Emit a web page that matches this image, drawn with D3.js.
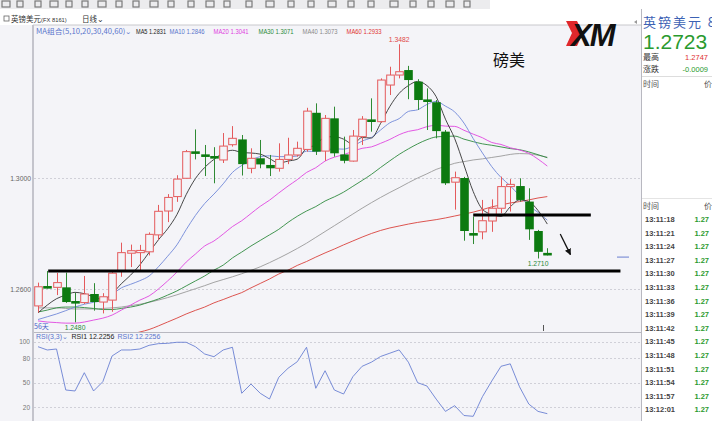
<!DOCTYPE html>
<html><head><meta charset="utf-8">
<script src="https://cdn.jsdelivr.net/npm/d3@7"></script>
<style>
body{margin:0;background:#fff;overflow:hidden;}
svg{display:block;font-family:"Noto Sans CJK SC","Noto Sans",sans-serif;}
</style></head><body>
<svg id="c" width="718" height="433"></svg>
<script>
// ---------- data ----------
const opens = [1.2539,1.2607,1.2606,1.2606,1.2553,1.2551,1.2582,1.2553,1.2560,1.2666,
1.2729,1.2731,1.2734,1.2795,1.2881,1.2933,1.2999,1.3093,1.3082,1.3076,
1.3065,1.3120,1.3139,1.3035,1.3071,1.3047,1.3035,1.3067,1.3083,1.3103,
1.3235,1.3097,1.3215,1.3085,1.3061,1.3149,1.3208,1.3203,1.3335,1.3371,
1.3389,1.3347,1.3280,1.3273,1.3167,1.2985,1.3000,1.2798,1.2806,1.2845,
1.2891,1.2969,1.2971,1.2915,1.2809,1.2728];
const highs = [1.2623,1.2665,1.2658,1.2659,1.2586,1.2647,1.2621,1.2585,1.2661,1.2767,
1.2760,1.2759,1.2804,1.2903,1.2942,1.3010,1.3101,1.3175,1.3119,1.3111,
1.3162,1.3187,1.3155,1.3107,1.3137,1.3083,1.3125,1.3145,1.3131,1.3253,
1.3269,1.3227,1.3257,1.3149,1.3173,1.3223,1.3287,1.3359,1.3401,1.3482,
1.3404,1.3356,1.3323,1.3281,1.3173,1.3023,1.3004,1.2861,1.2921,1.2923,
1.3005,1.2996,1.2999,1.2963,1.2813,1.2747];
const lows = [1.2515,1.2602,1.2578,1.2550,1.2480,1.2546,1.2522,1.2512,1.2518,1.2644,
1.2679,1.2668,1.2721,1.2777,1.2841,1.2914,1.2998,1.3067,1.3007,1.2981,
1.3054,1.3113,1.3009,1.3017,1.3035,1.3007,1.3023,1.3050,1.3077,1.3095,
1.3083,1.3062,1.3077,1.3053,1.3059,1.3119,1.3167,1.3199,1.3299,1.3359,
1.3284,1.3245,1.3173,1.3143,1.2975,1.2886,1.2774,1.2762,1.2779,1.2806,
1.2873,1.2879,1.2915,1.2777,1.2710,1.2721];
const closes = [1.2608,1.2605,1.2623,1.2553,1.2551,1.2582,1.2553,1.2572,1.2657,1.2731,
1.2738,1.2739,1.2797,1.2880,1.2930,1.2996,1.3095,1.3090,1.3079,1.3073,
1.3115,1.3143,1.3050,1.3071,1.3049,1.3035,1.3067,1.3083,1.3107,1.3241,
1.3095,1.3215,1.3089,1.3062,1.3151,1.3212,1.3205,1.3353,1.3371,1.3383,
1.3353,1.3281,1.3277,1.3169,1.2981,1.3001,1.2809,1.2796,1.2846,1.2891,
1.2969,1.2977,1.2921,1.2815,1.2734,1.2723];

const ma5 = [1.2514,1.2542,1.2565,1.2578,1.2588,1.2583,1.2572,1.2562,1.2583,1.2619,
1.2650,1.2687,1.2732,1.2777,1.2817,1.2868,1.2940,1.2998,1.3038,1.3067,
1.3090,1.3100,1.3092,1.3090,1.3086,1.3070,1.3054,1.3061,1.3068,1.3107,
1.3119,1.3148,1.3149,1.3140,1.3122,1.3146,1.3144,1.3197,1.3258,1.3305,
1.3333,1.3348,1.3333,1.3293,1.3212,1.3142,1.3047,1.2951,1.2887,1.2869,
1.2862,1.2896,1.2921,1.2915,1.2883,1.2834];
const ma10 = [1.2490,1.2500,1.2510,1.2522,1.2535,1.2545,1.2552,1.2560,1.2580,1.2604,
1.2617,1.2630,1.2647,1.2680,1.2718,1.2759,1.2814,1.2865,1.2908,1.2942,
1.2979,1.3020,1.3045,1.3064,1.3077,1.3080,1.3077,1.3077,1.3079,1.3097,
1.3095,1.3101,1.3105,1.3104,1.3115,1.3133,1.3146,1.3173,1.3199,1.3214,
1.3240,1.3246,1.3265,1.3276,1.3259,1.3238,1.3198,1.3142,1.3090,1.3041,
1.3002,1.2972,1.2936,1.2901,1.2876,1.2848];
const ma20 = [1.2485,1.2481,1.2479,1.2477,1.2477,1.2481,1.2488,1.2495,1.2506,1.2524,
1.2542,1.2560,1.2575,1.2600,1.2629,1.2661,1.2697,1.2726,1.2755,1.2773,
1.2798,1.2825,1.2846,1.2872,1.2898,1.2920,1.2946,1.2971,1.2994,1.3020,
1.3037,1.3061,1.3075,1.3084,1.3096,1.3107,1.3112,1.3125,1.3139,1.3156,
1.3168,1.3174,1.3185,1.3190,1.3187,1.3186,1.3172,1.3158,1.3145,1.3128,
1.3121,1.3109,1.3101,1.3089,1.3068,1.3043];
const ma30 = [1.2517,1.2524,1.2532,1.2535,1.2535,1.2533,1.2530,1.2526,1.2526,1.2530,
1.2535,1.2542,1.2553,1.2564,1.2578,1.2593,1.2611,1.2629,1.2647,1.2668,
1.2686,1.2712,1.2733,1.2755,1.2775,1.2795,1.2815,1.2840,1.2862,1.2881,
1.2897,1.2917,1.2932,1.2949,1.2970,1.2991,1.3013,1.3038,1.3062,1.3085,
1.3105,1.3123,1.3138,1.3148,1.3150,1.3151,1.3140,1.3131,1.3123,1.3118,
1.3112,1.3106,1.3102,1.3094,1.3084,1.3073];
const ma40 = [1.2532,1.2532,1.2532,1.2530,1.2528,1.2528,1.2528,1.2530,1.2532,1.2535,
1.2540,1.2545,1.2552,1.2560,1.2569,1.2579,1.2590,1.2601,1.2612,1.2624,
1.2634,1.2644,1.2655,1.2667,1.2680,1.2695,1.2711,1.2728,1.2746,1.2765,
1.2786,1.2807,1.2828,1.2849,1.2870,1.2891,1.2911,1.2930,1.2948,1.2965,
1.2983,1.3000,1.3015,1.3031,1.3042,1.3053,1.3059,1.3065,1.3069,1.3074,
1.3079,1.3085,1.3088,1.3087,1.3082,1.3075];
const ma60 = [1.2373,1.2380,1.2387,1.2395,1.2400,1.2405,1.2411,1.2416,1.2420,1.2427,
1.2436,1.2445,1.2454,1.2467,1.2481,1.2495,1.2510,1.2523,1.2535,1.2550,
1.2562,1.2575,1.2587,1.2604,1.2620,1.2636,1.2654,1.2668,1.2685,1.2699,
1.2715,1.2730,1.2744,1.2759,1.2773,1.2787,1.2800,1.2811,1.2820,1.2827,
1.2834,1.2840,1.2845,1.2850,1.2856,1.2863,1.2870,1.2877,1.2886,1.2896,
1.2903,1.2910,1.2915,1.2921,1.2928,1.2933];
const rsi = [93.9,89.9,91.1,41.1,39.9,62.2,39.9,51.2,82.6,89.9,
89.9,91.1,95.6,97.6,98.0,99.3,99.3,93.9,85.0,81.7,
89.9,93.2,37.1,48.4,37.1,30.1,56.6,67.6,75.6,93.2,
43.2,64.6,41.1,36.2,57.3,70,75,82,86,90,
75,50,46,30,15,22,10,9,33,52,
70,73,45,24,15,12.2256];

const maNames = ["MA5","MA10","MA20","MA30","MA40","MA60"];
const maLast = ["1.2831","1.2846","1.3041","1.3071","1.3073","1.2933"];
const priceTicks = [1.30, 1.26];
const priceTickLabels = ["1.3000","1.2600"];
const rsiTicks = [100, 80, 50, 20];
const times = ["13:11:18","13:11:21","13:11:24","13:11:27","13:11:30","13:11:33","13:11:36",
"13:11:39","13:11:42","13:11:45","13:11:48","13:11:51","13:11:54","13:11:57","13:12:01"];
const tickPrice = "1.27";
// annotation lines [startIndex, endIndex, price]
const supportLines = [[2.1, 63.9, 1.2665], [48.0, 60.7, 1.2867]];
const arrowPts = [[57.4, 1.2798], [58.5, 1.2724]];

// ---------- layout ----------
const svg = d3.select("#c");
const W = 718, H = 433;
const PL = 34, PR = 641, PT = 25, PB = 332, RB = 421;
const x = d3.scaleLinear().domain([1, 56]).range([38, 547.3]);
const y = d3.scaleLinear().domain([1.26, 1.30]).range([289, 178]);
const yr = d3.scaleLinear().domain([20, 100]).range([407.3, 341.7]);
const idx = d3.range(1, 57);

const BG = "#f4f4f8", RED = "#e45a5c", GREEN = "#0c7a10", GWICK = "#2f8a34";
const maColors = ["#333333", "#7088d8", "#e046e0", "#2f8a3e", "#9a9a9a", "#d9423c"];
const legColors = ["#222222", "#5a74cc", "#e040e0", "#2a8a3a", "#8a8a8a", "#e03434"];

svg.append("rect").attr("width", W).attr("height", H).attr("fill", "#fff");
// toolbar strip
svg.append("rect").attr("x", 0).attr("y", 0).attr("width", 490).attr("height", 9).attr("fill", "#ececee");
const iconX = [2,17,35,50,66,82,98,116,133,150,168,188,206,224,246,266,288,308,328,348,368,390,410,428,446,464];
svg.append("g").selectAll("rect").data(iconX).join("rect")
  .attr("x", d => d).attr("y", 1).attr("width", (d,i)=> i%3===0?8:6).attr("height", 6)
  .attr("fill", "none").attr("stroke", "#7a7a7a").attr("stroke-width", 1.2);

// header row
svg.append("rect").attr("x", 4).attr("y", 16).attr("width", 5).attr("height", 5).attr("fill","none").attr("stroke","#666").attr("stroke-width",0.8);
svg.append("text").attr("x", 11).attr("y", 21.5).attr("font-size", 7.5).attr("fill", "#333").text("英镑美元");
svg.append("text").attr("x", 41).attr("y", 21.5).attr("font-size", 5.8).attr("fill", "#333")
  .attr("font-family", "Liberation Sans, sans-serif").text("(FX 8161)");
svg.append("text").attr("x", 82).attr("y", 21.5).attr("font-size", 7.5).attr("fill", "#333").text("日线⌄");

// plot background
svg.append("rect").attr("x", 0).attr("y", PT).attr("width", PR).attr("height", RB - PT).attr("fill", BG);
svg.append("line").attr("x1", PL - 1).attr("x2", PR).attr("y1", PT).attr("y2", PT).attr("stroke", "#c8c8cc");
svg.append("line").attr("x1", PL - 1).attr("x2", PL - 1).attr("y1", PT).attr("y2", RB).attr("stroke", "#c4c4cc").attr("stroke-width", 2);
svg.append("line").attr("x1", PL).attr("x2", PR).attr("y1", PB + 0.5).attr("y2", PB + 0.5).attr("stroke", "#b8b8c0");

// grid + axis labels
const gAxis = svg.append("g");
gAxis.selectAll("line.pg").data(priceTicks).join("line")
  .attr("x1", PL).attr("x2", PR).attr("y1", d => Math.round(y(d)) + 0.5).attr("y2", d => Math.round(y(d)) + 0.5)
  .attr("stroke", "#d0d0d8").attr("stroke-dasharray", "2,2");
gAxis.selectAll("text.pl").data(priceTicks).join("text")
  .attr("x", 31).attr("y", d => y(d) + 2.5).attr("text-anchor", "end").attr("font-size", 6.8).attr("fill", "#666")
  .attr("font-family", "Liberation Sans, sans-serif")
  .text((d, i) => priceTickLabels[i]);
gAxis.selectAll("line.rg").data(rsiTicks).join("line")
  .attr("x1", PL).attr("x2", PR).attr("y1", d => Math.round(yr(d)) + 0.5).attr("y2", d => Math.round(yr(d)) + 0.5)
  .attr("stroke", "#d0d0d8").attr("stroke-dasharray", "2,2");
gAxis.selectAll("text.rl").data(rsiTicks).join("text")
  .attr("x", 30).attr("y", d => yr(d) + 2.5).attr("text-anchor", "end").attr("font-size", 6.5).attr("fill", "#777")
  .attr("font-family", "Liberation Sans, sans-serif")
  .text(d => d);

// clip
svg.append("clipPath").attr("id", "mainclip").append("rect").attr("x", PL).attr("y", PT).attr("width", PR - PL).attr("height", PB - PT);

const gMain = svg.append("g").attr("clip-path", "url(#mainclip)");

// MA lines
const mas = [ma5, ma10, ma20, ma30, ma40, ma60];
const line = d3.line().x((d, i) => x(i + 1)).y(d => y(d)).curve(d3.curveMonotoneX);
mas.slice().reverse().forEach((m, k) => {
  const j = mas.length - 1 - k;
  gMain.append("path").attr("d", line(m)).attr("fill", "none").attr("stroke", maColors[j]).attr("stroke-width", 0.9);
});

// candles
const bw = 7.6;
const cg = gMain.append("g");
idx.forEach(n => {
  const i = n - 1, o = opens[i], c = closes[i], h = highs[i], l = lows[i];
  const cx = Math.round(x(n)) + 0.5;
  const isUp = c > o;
  const top = y(Math.max(o, c)), bot = y(Math.min(o, c));
  if (isUp) {
    cg.append("line").attr("x1", cx).attr("x2", cx).attr("y1", y(h)).attr("y2", top).attr("stroke", RED);
    cg.append("line").attr("x1", cx).attr("x2", cx).attr("y1", bot).attr("y2", y(l)).attr("stroke", RED);
    cg.append("rect").attr("x", cx - bw / 2).attr("y", top).attr("width", bw).attr("height", Math.max(bot - top, 1))
      .attr("fill", BG).attr("stroke", RED).attr("stroke-width", 1);
  } else {
    cg.append("line").attr("x1", cx).attr("x2", cx).attr("y1", y(h)).attr("y2", y(l)).attr("stroke", GWICK);
    const hh = Math.max(bot - top, 2.6);
    cg.append("rect").attr("x", cx - bw / 2 - 0.5).attr("y", (top + bot) / 2 - hh / 2).attr("width", bw + 1).attr("height", hh)
      .attr("fill", GREEN);
  }
});

// support lines and arrow
gMain.selectAll("line.sup").data(supportLines).join("line")
  .attr("x1", d => x(d[0])).attr("x2", d => x(d[1])).attr("y1", d => y(d[2])).attr("y2", d => y(d[2]))
  .attr("stroke", "#000").attr("stroke-width", 3);
svg.append("defs").append("marker").attr("id", "ah").attr("viewBox", "0 0 10 10").attr("refX", 9).attr("refY", 5)
  .attr("markerWidth", 5).attr("markerHeight", 5).attr("orient", "auto")
  .append("path").attr("d", "M0,0 L10,5 L0,10 z").attr("fill", "#111");
gMain.append("line").attr("x1", x(arrowPts[0][0])).attr("y1", y(arrowPts[0][1]))
  .attr("x2", x(arrowPts[1][0])).attr("y2", y(arrowPts[1][1]))
  .attr("stroke", "#111").attr("stroke-width", 1.3).attr("marker-end", "url(#ah)");
// current price marker
svg.append("line").attr("x1", 617).attr("x2", 629).attr("y1", y(1.2715)).attr("y2", y(1.2715)).attr("stroke", "#6a7fd0");
svg.append("line").attr("x1", 543.5).attr("x2", 543.5).attr("y1", 325).attr("y2", 331).attr("stroke", "#555");

// price labels
const maxI = highs.indexOf(d3.max(highs)), minI = lows.indexOf(d3.min(lows));
svg.append("text").attr("x", x(maxI + 1)).attr("y", y(highs[maxI]) - 2.5).attr("text-anchor", "middle")
  .attr("font-size", 6.8).attr("fill", "#e04848").attr("font-family", "Liberation Sans, sans-serif").text(highs[maxI].toFixed(4));
svg.append("text").attr("x", x(minI + 1)).attr("y", y(lows[minI]) + 7.5).attr("text-anchor", "middle")
  .attr("font-size", 6.8).attr("fill", "#2a8a3a").attr("font-family", "Liberation Sans, sans-serif").text(lows[minI].toFixed(4));
svg.append("text").attr("x", x(55)).attr("y", y(lows[54]) + 7.5).attr("text-anchor", "middle")
  .attr("font-size", 6.8).attr("fill", "#2a8a3a").attr("font-family", "Liberation Sans, sans-serif").text(lows[54].toFixed(4));
svg.append("text").attr("x", 34).attr("y", 329).attr("font-size", 7).attr("fill", "#4a5ec8").text("56天");

// MA legend
const leg = svg.append("g").attr("font-size", 6.9).attr("font-family", "Liberation Sans, sans-serif");
const legStart = [36, 136, 169.5, 213.5, 258.5, 302.5, 346.5];
leg.append("text").attr("x", legStart[0]).attr("y", 33.5).attr("fill", "#5a74cc")
  .attr("font-family", "Noto Sans CJK SC, sans-serif").attr("font-size", 7)
  .attr("textLength", 96).attr("lengthAdjust", "spacingAndGlyphs").text("MA组合(5,10,20,30,40,60)⌄");
maNames.forEach((nm, k) => {
  leg.append("text").attr("x", legStart[k + 1]).attr("y", 33.5).attr("fill", legColors[k])
    .attr("textLength", k === 0 ? 30 : 35).attr("lengthAdjust", "spacingAndGlyphs")
    .text(nm + " " + maLast[k]);
});

// 磅美
svg.append("text").attr("x", 493).attr("y", 66).attr("font-size", 16).attr("fill", "#111").text("磅美");

// XM logo
const logo = svg.append("g");
logo.append("path").attr("d", "M566,21 L577,21 L583,33 L577,46 L566,46 L572,33 Z").attr("fill", "#e0282c");
logo.append("text").attr("x", 571).attr("y", 46).attr("font-size", 31).attr("font-weight", "bold").attr("font-style", "italic")
  .attr("font-family", "Liberation Sans, Arial, sans-serif").attr("fill", "#111").attr("letter-spacing", -2).text("XM");
svg.append("path").attr("d", "M637,20 L634,22 L637,24 Z").attr("fill", "#999");

// RSI panel
const gR = svg.append("g");
svg.append("clipPath").attr("id", "rclip").append("rect").attr("x", PL).attr("y", PB + 1).attr("width", PR - PL).attr("height", RB - PB - 1);
const rline = d3.line().x((d, i) => x(i + 1)).y(d => yr(d));
gR.append("path").attr("clip-path", "url(#rclip)").attr("d", rline(rsi)).attr("fill", "none").attr("stroke", "#6a80d2").attr("stroke-width", 0.9);
const rl = gR.append("g").attr("font-size", 7).attr("font-family", "Liberation Sans, sans-serif");
rl.append("text").attr("x", 36).attr("y", 338.5).attr("fill", "#5a74cc").text("RSI(3,3)⌄");
rl.append("text").attr("x", 71.5).attr("y", 338.5).attr("fill", "#222").text("RSI1 " + rsi[55].toFixed(4));
rl.append("text").attr("x", 117.5).attr("y", 338.5).attr("fill", "#5a74cc").text("RSI2 " + rsi[55].toFixed(4));

// right panel
svg.append("rect").attr("x", PR + 1).attr("y", 9).attr("width", W - PR - 1).attr("height", 412).attr("fill", "#fff");
svg.append("line").attr("x1", PR + 0.5).attr("x2", PR + 0.5).attr("y1", 9).attr("y2", RB).attr("stroke", "#b8b8c0");
const rp = svg.append("g");
rp.append("text").attr("x", 643).attr("y", 27).attr("font-size", 13).attr("fill", "#3c62b4")
  .attr("textLength", 72).attr("lengthAdjust", "spacing").text("英镑美元 8");
rp.append("text").attr("x", 643).attr("y", 48.5).attr("font-size", 21).attr("fill", "#2a9a2e")
  .attr("font-family", "Liberation Sans, sans-serif").text(closes[55].toFixed(4));
rp.append("text").attr("x", 643).attr("y", 60).attr("font-size", 8).attr("fill", "#333").text("最高");
rp.append("text").attr("x", 708).attr("y", 60).attr("font-size", 7.5).attr("text-anchor", "end").attr("fill", "#e03030")
  .attr("font-family", "Liberation Sans, sans-serif").text(highs[55].toFixed(4));
rp.append("text").attr("x", 643).attr("y", 71.5).attr("font-size", 8).attr("fill", "#333").text("涨跌");
rp.append("text").attr("x", 708).attr("y", 71.5).attr("font-size", 7.5).attr("text-anchor", "end").attr("fill", "#2a9a2e")
  .attr("font-family", "Liberation Sans, sans-serif").text("-0.0009");
rp.append("line").attr("x1", 642).attr("x2", 712).attr("y1", 76.5).attr("y2", 76.5).attr("stroke", "#ddd");
[86.5, 208.5].forEach(yy => {
  rp.append("text").attr("x", 643).attr("y", yy).attr("font-size", 8).attr("fill", "#555").text("时间");
  rp.append("text").attr("x", 712).attr("y", yy).attr("font-size", 8).attr("text-anchor", "end").attr("fill", "#555").text("价");
});
rp.append("line").attr("x1", 642).attr("x2", 712).attr("y1", 198.5).attr("y2", 198.5).attr("stroke", "#e4e4e4");
rp.selectAll("text.tm").data(times).join("text")
  .attr("x", 645).attr("y", (d, i) => 222 + i * 13.6).attr("font-size", 7.5).attr("font-weight", "bold").attr("fill", "#444")
  .attr("font-family", "Liberation Sans, sans-serif").text(d => d);
rp.selectAll("text.tp").data(times).join("text")
  .attr("x", 709).attr("y", (d, i) => 222 + i * 13.6).attr("font-size", 7.5).attr("font-weight", "bold").attr("text-anchor", "end")
  .attr("fill", "#2a9a2e").attr("font-family", "Liberation Sans, sans-serif").text(tickPrice);
svg.append("rect").attr("x", 712).attr("y", 9).attr("width", 6).attr("height", 424).attr("fill", "#fff");
</script>
</body></html>
